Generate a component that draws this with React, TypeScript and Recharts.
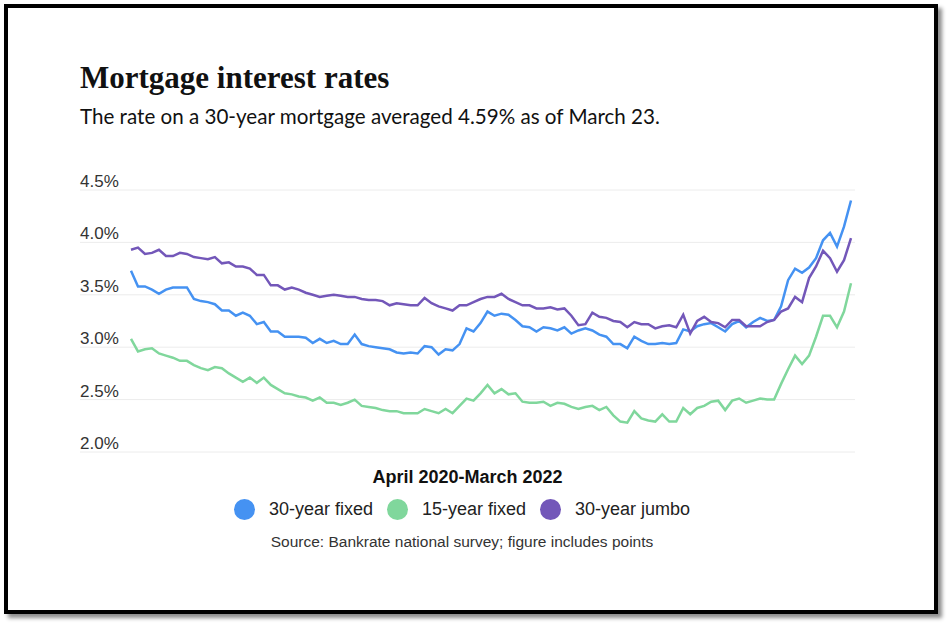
import { CartesianGrid, Line, LineChart, XAxis, YAxis } from "recharts";

const FIXED_30 = [
  3.73, 3.58, 3.58, 3.55, 3.51, 3.55, 3.57, 3.57, 3.57, 3.46, 3.44, 3.43, 3.41, 3.35, 3.35, 3.3,
  3.33, 3.3, 3.22, 3.24, 3.15, 3.15, 3.1, 3.1, 3.1, 3.09, 3.04, 3.08, 3.04, 3.06, 3.03, 3.03,
  3.12, 3.03, 3.01, 3.0, 2.99, 2.98, 2.95, 2.94, 2.95, 2.94, 3.01, 3.0, 2.93, 2.98, 2.97, 3.03,
  3.18, 3.15, 3.23, 3.34, 3.3, 3.32, 3.31, 3.26, 3.2, 3.19, 3.15, 3.19, 3.18, 3.16, 3.19, 3.13,
  3.16, 3.18, 3.16, 3.12, 3.1, 3.03, 3.03, 2.99, 3.1, 3.06, 3.03, 3.03, 3.04, 3.03, 3.04, 3.17,
  3.15, 3.2, 3.22, 3.23, 3.19, 3.15, 3.22, 3.25, 3.19, 3.24, 3.28, 3.25, 3.26, 3.39, 3.64, 3.75,
  3.71, 3.76, 3.85, 4.02, 4.09, 3.96, 4.15, 4.4,
];

const FIXED_15 = [
  3.08, 2.96, 2.98, 2.99, 2.94, 2.92, 2.9, 2.87, 2.87, 2.83, 2.8, 2.78, 2.81, 2.8, 2.75, 2.71,
  2.67, 2.71, 2.66, 2.71, 2.64, 2.6, 2.56, 2.55, 2.53, 2.52, 2.49, 2.52, 2.47, 2.47, 2.45, 2.47,
  2.5, 2.44, 2.43, 2.42, 2.4, 2.39, 2.39, 2.37, 2.37, 2.37, 2.41, 2.39, 2.37, 2.41, 2.37, 2.44,
  2.51, 2.49, 2.56, 2.64, 2.56, 2.6, 2.55, 2.56, 2.48, 2.47, 2.47, 2.48, 2.44, 2.47, 2.46, 2.43,
  2.41, 2.43, 2.44, 2.4, 2.43, 2.35, 2.29, 2.28, 2.39, 2.32, 2.3, 2.29, 2.36, 2.29, 2.29, 2.42,
  2.36, 2.42, 2.44, 2.48, 2.49, 2.4, 2.49, 2.51, 2.47, 2.49, 2.51, 2.5, 2.5, 2.65, 2.79, 2.92,
  2.84, 2.92, 3.1, 3.3, 3.3, 3.19, 3.34, 3.61,
];

const JUMBO_30 = [
  3.93, 3.95, 3.89, 3.9, 3.93, 3.87, 3.87, 3.9, 3.89, 3.86, 3.85, 3.84, 3.86, 3.8, 3.81, 3.77,
  3.77, 3.75, 3.69, 3.69, 3.59, 3.59, 3.55, 3.57, 3.55, 3.52, 3.5, 3.48, 3.49, 3.5, 3.49, 3.48,
  3.48, 3.46, 3.45, 3.45, 3.44, 3.4, 3.42, 3.41, 3.4, 3.4, 3.47, 3.42, 3.39, 3.37, 3.35, 3.4,
  3.4, 3.43, 3.46, 3.48, 3.48, 3.51, 3.46, 3.43, 3.4, 3.4, 3.37, 3.37, 3.38, 3.36, 3.37, 3.3,
  3.21, 3.22, 3.33, 3.29, 3.28, 3.25, 3.24, 3.19, 3.24, 3.22, 3.22, 3.18, 3.2, 3.21, 3.19, 3.31,
  3.13, 3.25, 3.29, 3.24, 3.23, 3.19, 3.26, 3.26, 3.2, 3.2, 3.2, 3.24, 3.26, 3.34, 3.37, 3.48,
  3.43, 3.66, 3.77, 3.92, 3.85, 3.72, 3.83, 4.04,
];

// weekly survey dates, starting the first week of April 2020
const WEEKS = FIXED_30.map((_, i) => {
  const d = new Date(Date.UTC(2020, 3, 1 + i * 7));
  return d.toISOString().slice(0, 10);
});

const Y_TICKS = [2.0, 2.5, 3.0, 3.5, 4.0, 4.5];

const SERIES = [
  { key: "fixed30", name: "30-year fixed", color: "#4592f2" },
  { key: "fixed15", name: "15-year fixed", color: "#80d79c" },
  { key: "jumbo30", name: "30-year jumbo", color: "#7357b9" },
];

const data = WEEKS.map((week, i) => ({
  week,
  fixed30: FIXED_30[i],
  fixed15: FIXED_15[i],
  jumbo30: JUMBO_30[i],
}));

const sans = "'Liberation Sans', Arial, sans-serif";

const renderYTick = (props: any) => {
  const { y, payload } = props;
  return (
    <text x={80} y={y - 3} fill="#333" fontSize={17} fontFamily={sans} textAnchor="start">
      {`${Number(payload.value).toFixed(1)}%`}
    </text>
  );
};

export default function App() {
  return (
    <div style={{ position: "absolute", left: 0, top: 0, width: 949, height: 627, background: "#fff" }}>
      <div
        style={{
          position: "absolute",
          left: 4,
          top: 4,
          width: 926,
          height: 602,
          border: "4px solid #000",
          boxShadow: "4px 4px 4px rgba(0,0,0,0.45)",
          background: "#fff",
        }}
      />
      <div
        style={{
          position: "absolute",
          left: 80,
          top: 62,
          fontFamily: "'Liberation Serif', serif",
          fontWeight: 700,
          fontSize: 31,
          lineHeight: "31px",
          color: "#111",
          whiteSpace: "nowrap",
        }}
      >
        Mortgage interest rates
      </div>
      <div
        style={{
          position: "absolute",
          left: 80,
          top: 106,
          fontFamily: "Lato, sans-serif",
          fontSize: 20.6,
          lineHeight: "20px",
          color: "#111",
          whiteSpace: "nowrap",
        }}
      >
        The rate on a 30-year mortgage averaged 4.59% as of March 23.
      </div>

      <div style={{ position: "absolute", left: 0, top: 0 }}>
        <LineChart
          width={949}
          height={627}
          data={data}
          margin={{ top: 190, right: 94, bottom: 175, left: 79 }}
        >
          <CartesianGrid vertical={false} stroke="#ececec" />
          <XAxis dataKey="week" hide padding={{ left: 51, right: 4 }} />
          <YAxis
            width={1}
            domain={[2, 4.5]}
            ticks={Y_TICKS}
            axisLine={false}
            tickLine={false}
            tick={renderYTick}
            interval={0}
          />
          {SERIES.map((s) => (
            <Line
              key={s.key}
              dataKey={s.key}
              name={s.name}
              type="linear"
              stroke={s.color}
              strokeWidth={2.5}
              dot={false}
              isAnimationActive={false}
            />
          ))}
        </LineChart>
      </div>

      <div
        style={{
          position: "absolute",
          left: 80,
          width: 775,
          top: 468,
          textAlign: "center",
          fontFamily: sans,
          fontWeight: 700,
          fontSize: 18,
          lineHeight: "18px",
          color: "#111",
        }}
      >
        April 2020-March 2022
      </div>

      <div
        style={{
          position: "absolute",
          left: 0,
          width: 924,
          top: 499,
          display: "flex",
          justifyContent: "center",
          alignItems: "center",
          fontFamily: sans,
          fontSize: 18,
          color: "#222",
        }}
      >
        {SERIES.map((s, i) => (
          <div
            key={s.key}
            style={{ display: "flex", alignItems: "center", marginRight: i < SERIES.length - 1 ? 14 : 0 }}
          >
            <span
              style={{
                width: 21,
                height: 21,
                borderRadius: "50%",
                background: s.color,
                display: "inline-block",
                marginRight: 14,
              }}
            />
            <span>{s.name}</span>
          </div>
        ))}
      </div>

      <div
        style={{
          position: "absolute",
          left: 0,
          width: 924,
          top: 534,
          textAlign: "center",
          fontFamily: sans,
          fontSize: 15.5,
          lineHeight: "16px",
          color: "#333",
        }}
      >
        Source: Bankrate national survey; figure includes points
      </div>
    </div>
  );
}
